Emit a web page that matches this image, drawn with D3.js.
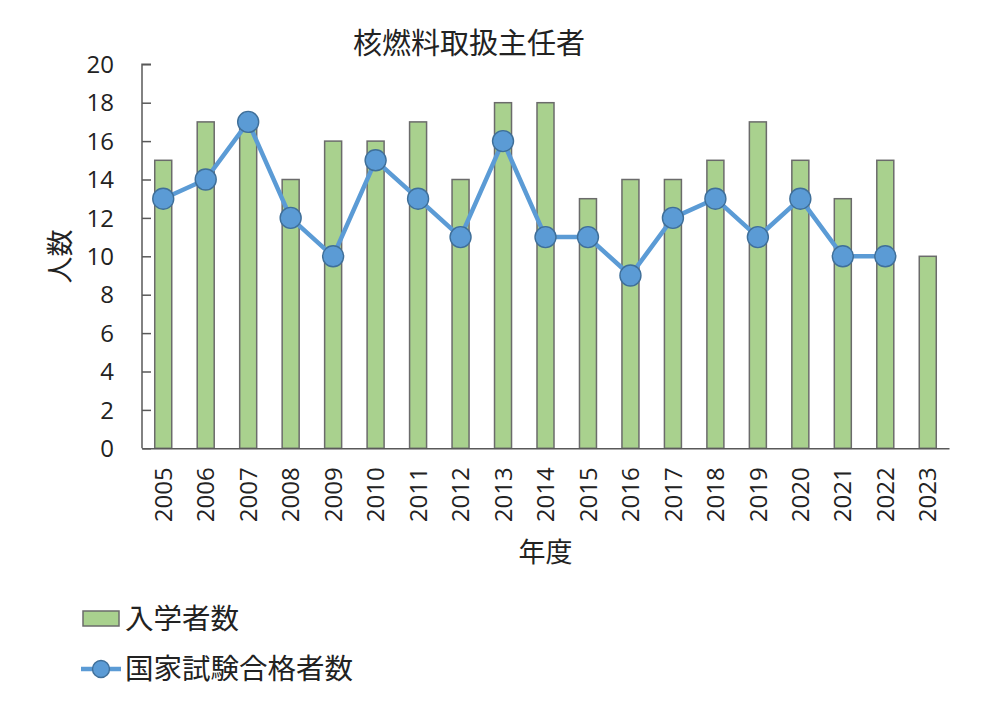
<!DOCTYPE html>
<html><head><meta charset="utf-8">
<script src="https://cdn.jsdelivr.net/npm/d3@7"></script>
<style>body{margin:0;background:#fff;} text{font-family:"Open Sans","Noto Sans CJK JP",sans-serif;}</style>
</head><body>
<svg id="c" width="999" height="712"></svg>
<script>
const years = ["2005","2006","2007","2008","2009","2010","2011","2012","2013","2014","2015","2016","2017","2018","2019","2020","2021","2022","2023"];
const enrolled = [15,17,17,14,16,16,17,14,18,18,13,14,14,15,17,15,13,15,10];
const passed = [13,14,17,12,10,15,13,11,16,11,11,9,12,13,11,13,10,10,null];
const yTicks = [0,2,4,6,8,10,12,14,16,18,20];
const title = "核燃料取扱主任者";
const yLabel = "人数";
const xLabel = "年度";
const seriesNames = ["入学者数","国家試験合格者数"];

(function(){
const svg = d3.select("#c");
const pL = 142, pR = 949, pT = 64.3, pB = 448.3;
const x = d3.scaleBand().domain(years).range([pL, pR]).paddingInner(0).paddingOuter(0);
const y = d3.scaleLinear().domain([0,20]).range([pB, pT]);
const barW = 17;
const barFill = "#a9d18e", barStroke = "#6b6b6b", lineCol = "#5b9bd5", mStroke = "#3f6f99";
const textCol = "#222";
const cjk = "'Noto Sans CJK JP',sans-serif";

// bars
svg.append("g").selectAll("rect").data(years).join("rect")
  .attr("x", d => x(d) + x.bandwidth()/2 - barW/2)
  .attr("y", (d,i) => y(enrolled[i]))
  .attr("width", barW)
  .attr("height", (d,i) => y(0) - y(enrolled[i]))
  .attr("fill", barFill).attr("stroke", barStroke).attr("stroke-width", 1.5);

// y axis
const yAxis = svg.append("g").attr("transform", `translate(${pL},0)`)
  .call(d3.axisRight(y).tickValues(yTicks).tickSize(9).tickFormat(""));
yAxis.select(".domain").attr("stroke", "#595959").attr("stroke-width", 1.5).attr("d", `M9,${pT}H0V${pB}`);
yAxis.selectAll(".tick line").attr("stroke", "#595959").attr("stroke-width", 1.5);
svg.append("g").selectAll("text").data(yTicks).join("text")
  .attr("x", 114).attr("y", d => y(d)).attr("dy", "0.36em")
  .attr("text-anchor", "end").attr("font-size", 24).attr("fill", textCol).text(d => d);

// x axis
const xAxis = svg.append("g").attr("transform", `translate(0,${pB})`)
  .call(d3.axisBottom(x).tickSize(0).tickPadding(0));
xAxis.select(".domain").attr("stroke", "#595959").attr("stroke-width", 1.5);
xAxis.selectAll(".tick text")
  .attr("transform", "rotate(-90)")
  .attr("text-anchor", "end").attr("x", -19).attr("y", 0).attr("dy", "0.36em")
  .attr("font-size", 24).attr("fill", textCol)
  .style("font-family", "'Open Sans','Noto Sans CJK JP',sans-serif");

// line
const pts = years.map((d,i) => ({d, v: passed[i]})).filter(p => p.v !== null);
const line = d3.line().x(p => x(p.d) + x.bandwidth()/2).y(p => y(p.v));
svg.append("path").datum(pts).attr("d", line).attr("fill", "none")
  .attr("stroke", lineCol).attr("stroke-width", 4.5).attr("stroke-linejoin", "round");
svg.append("g").selectAll("circle").data(pts).join("circle")
  .attr("cx", p => x(p.d) + x.bandwidth()/2).attr("cy", p => y(p.v)).attr("r", 10.5)
  .attr("fill", lineCol).attr("stroke", mStroke).attr("stroke-width", 1.4);

// titles
svg.append("text").attr("x", 469).attr("y", 43.5).attr("dy", "0.36em").attr("text-anchor", "middle")
  .attr("font-size", 29).attr("fill", textCol).style("font-family",cjk).text(title);
svg.append("text").attr("transform", "translate(60.5,256.5) rotate(-90)").attr("dy", "0.36em").attr("text-anchor", "middle")
  .attr("font-size", 27).attr("fill", textCol).style("font-family",cjk).text(yLabel);
svg.append("text").attr("x", 545.5).attr("y", 552.5).attr("dy", "0.36em").attr("text-anchor", "middle")
  .attr("font-size", 27).attr("fill", textCol).style("font-family",cjk).text(xLabel);

// legend
const lg = svg.append("g");
lg.append("rect").attr("x", 83).attr("y", 611).attr("width", 36).attr("height", 15)
  .attr("fill", barFill).attr("stroke", barStroke).attr("stroke-width", 1.5);
lg.append("text").attr("x", 125).attr("y", 619).attr("dy", "0.36em").attr("font-size", 28.5)
  .attr("fill", textCol).style("font-family",cjk).text(seriesNames[0]);
lg.append("line").attr("x1", 81).attr("x2", 121).attr("y1", 669).attr("y2", 669)
  .attr("stroke", lineCol).attr("stroke-width", 4.5);
lg.append("circle").attr("cx", 101).attr("cy", 669).attr("r", 8.5)
  .attr("fill", lineCol).attr("stroke", mStroke).attr("stroke-width", 1.4);
lg.append("text").attr("x", 125).attr("y", 669).attr("dy", "0.36em").attr("font-size", 28.5)
  .attr("fill", textCol).style("font-family",cjk).text(seriesNames[1]);
})();
</script>
</body></html>
